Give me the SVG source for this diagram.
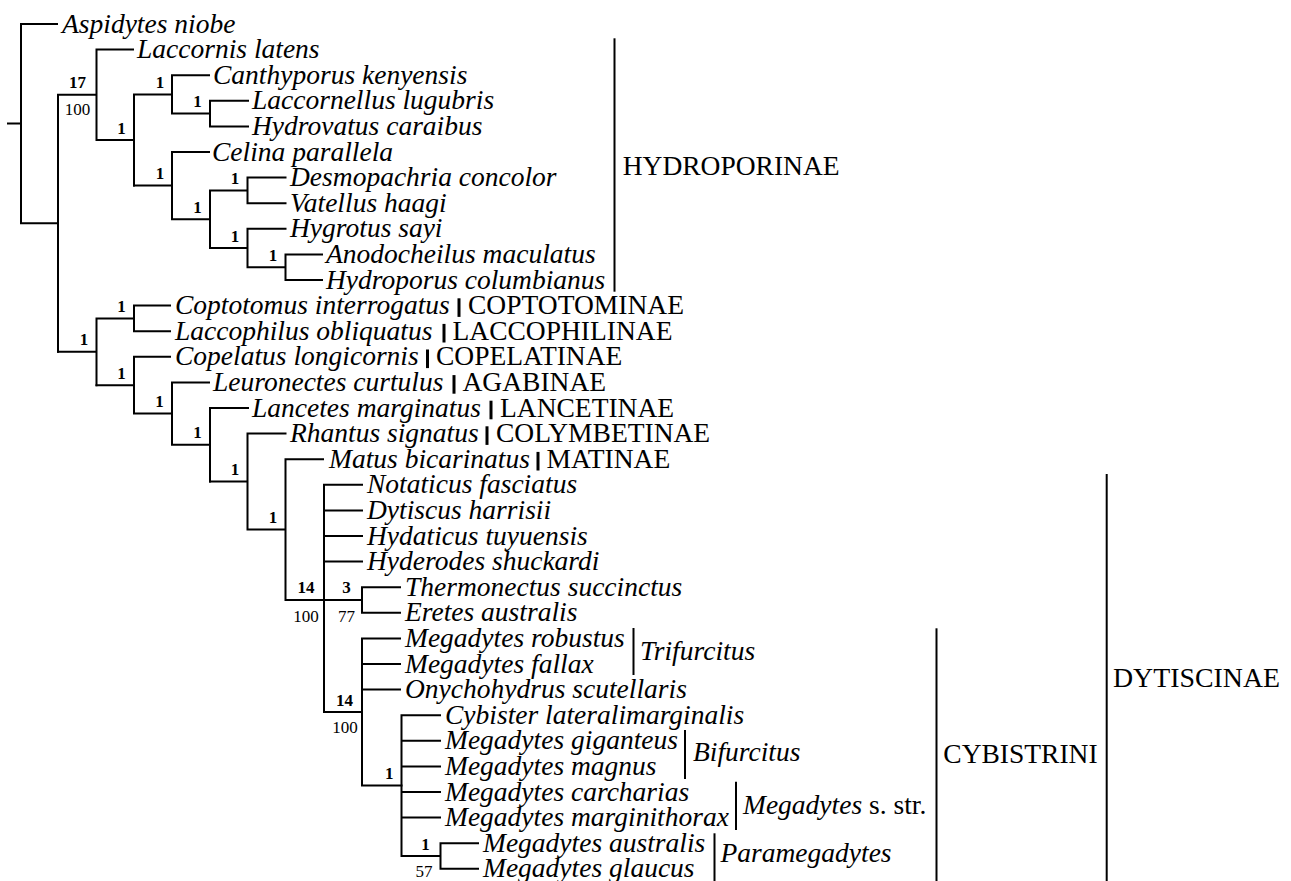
<svg xmlns="http://www.w3.org/2000/svg" width="1291" height="881" viewBox="0 0 1291 881">
<style>
.sp{font-family:"Liberation Serif","Times New Roman",serif;font-size:27.5px;font-style:italic;fill:#000}
.grp{font-family:"Liberation Serif","Times New Roman",serif;font-size:27.5px;fill:#000}
.it{font-style:italic}
.bs{font-family:"Liberation Serif","Times New Roman",serif;font-size:17px;font-weight:bold;text-anchor:middle;fill:#000}
.bt{font-family:"Liberation Serif","Times New Roman",serif;font-size:17px;text-anchor:middle;fill:#000}
.e{stroke:#000;stroke-width:2;fill:none;stroke-linecap:square}
.bar{stroke:#000;stroke-width:2;fill:none}
.tb{stroke:#000;stroke-width:3;fill:none}
</style>
<rect width="1291" height="881" fill="#fff"/>
<g id="connectors" class="e">
<path d="M8,123.6H21M21,24V223.3M21,24H57M21,223.3H58"/>
<path d="M58,94.8V351.8M58,94.8H96.5M96.5,49.6V140M96.5,49.6H133M96.5,140H134"/>
<path d="M134,94.4V185.6M134,94.4H172M172,75.2V113.6M172,75.2H209M172,113.6H210M210,100.8V126.4M210,100.8H248M210,126.4H248"/>
<path d="M134,185.6H172M172,152V219.2M172,152H209M172,219.2H210M210,190.4V248M210,190.4H247.5M247.5,177.6V203.2M247.5,177.6H285.5M247.5,203.2H285.5"/>
<path d="M210,248H247.5M247.5,228.8V267.2M247.5,228.8H285.5M247.5,267.2H285.5M285.5,254.4V280M285.5,254.4H322M285.5,280H322"/>
<path d="M58,351.8H96.5M96.5,318.4V385.2M96.5,318.4H134M134,305.6V331.2M134,305.6H170M134,331.2H170"/>
<path d="M96.5,385.2H134M134,356.8V413.6M134,356.8H170M134,413.6H172M172,382.4V444.8M172,382.4H209M172,444.8H210M210,408V481.6M210,408H248"/>
<path d="M210,481.6H247.5M247.5,433.6V529.6M247.5,433.6H285.5M247.5,529.6H285.5M285.5,459.2V600M285.5,459.2H323M285.5,600H324"/>
<path d="M324,484.8V712M324,484.8H362M324,510.4H362M324,536H362M324,561.6H362M324,600H362M362,587.2V612.8M362,587.2H400M362,612.8H400"/>
<path d="M324,712H362M362,638.4V785.6M362,638.4H400M362,664H400M362,689.6H400M362,785.6H401.5"/>
<path d="M401.5,715.2V856M401.5,715.2H440M401.5,740.8H440M401.5,766.4H440M401.5,792H440M401.5,817.6H440M401.5,856H440.5M440.5,843.2V868.8M440.5,843.2H478M440.5,868.8H478"/>
</g>
<g id="leaf-aspidytes"><text class="sp" x="62" y="32.5">Aspidytes niobe</text></g>
<g id="leaf-laccornis"><text class="sp" x="137" y="58.1">Laccornis latens</text></g>
<g id="leaf-canthyporus"><text class="sp" x="213" y="83.7">Canthyporus kenyensis</text></g>
<g id="leaf-laccornellus"><text class="sp" x="252" y="109.3">Laccornellus lugubris</text></g>
<g id="leaf-hydrovatus"><text class="sp" x="252" y="134.9">Hydrovatus caraibus</text></g>
<g id="leaf-celina"><text class="sp" x="212" y="160.5">Celina parallela</text></g>
<g id="leaf-desmopachria"><text class="sp" x="290" y="186.1">Desmopachria concolor</text></g>
<g id="leaf-vatellus"><text class="sp" x="290" y="211.7">Vatellus haagi</text></g>
<g id="leaf-hygrotus"><text class="sp" x="290" y="237.3">Hygrotus sayi</text></g>
<g id="leaf-anodocheilus"><text class="sp" x="326" y="262.9">Anodocheilus maculatus</text></g>
<g id="leaf-hydroporus"><text class="sp" x="326" y="288.5">Hydroporus columbianus</text></g>
<g id="leaf-coptotomus"><text class="sp" x="175" y="314.1">Coptotomus interrogatus</text><path class="tb" d="M459,298.3V316.9"/><text class="grp" x="468" y="314.1">COPTOTOMINAE</text></g>
<g id="leaf-laccophilus"><text class="sp" x="175" y="339.7">Laccophilus obliquatus</text><path class="tb" d="M444,323.9V342.5"/><text class="grp" x="452.5" y="339.7">LACCOPHILINAE</text></g>
<g id="leaf-copelatus"><text class="sp" x="175" y="365.3">Copelatus longicornis</text><path class="tb" d="M427.5,349.5V368.1"/><text class="grp" x="436" y="365.3">COPELATINAE</text></g>
<g id="leaf-leuronectes"><text class="sp" x="213" y="390.9">Leuronectes curtulus</text><path class="tb" d="M454,375.1V393.7"/><text class="grp" x="462.5" y="390.9">AGABINAE</text></g>
<g id="leaf-lancetes"><text class="sp" x="252" y="416.5">Lancetes marginatus</text><path class="tb" d="M491,400.7V419.3"/><text class="grp" x="500" y="416.5">LANCETINAE</text></g>
<g id="leaf-rhantus"><text class="sp" x="290" y="442.1">Rhantus signatus</text><path class="tb" d="M487,426.3V444.9"/><text class="grp" x="496" y="442.1">COLYMBETINAE</text></g>
<g id="leaf-matus"><text class="sp" x="329" y="467.7">Matus bicarinatus</text><path class="tb" d="M538,451.9V470.5"/><text class="grp" x="546.5" y="467.7">MATINAE</text></g>
<g id="leaf-notaticus"><text class="sp" x="367" y="493.3">Notaticus fasciatus</text></g>
<g id="leaf-dytiscus"><text class="sp" x="367" y="518.9">Dytiscus harrisii</text></g>
<g id="leaf-hydaticus"><text class="sp" x="367" y="544.5">Hydaticus tuyuensis</text></g>
<g id="leaf-hyderodes"><text class="sp" x="367" y="570.1">Hyderodes shuckardi</text></g>
<g id="leaf-thermonectus"><text class="sp" x="405" y="595.7">Thermonectus succinctus</text></g>
<g id="leaf-eretes"><text class="sp" x="405" y="621.3">Eretes australis</text></g>
<g id="leaf-robustus"><text class="sp" x="405" y="646.9">Megadytes robustus</text></g>
<g id="leaf-fallax"><text class="sp" x="405" y="672.5">Megadytes fallax</text></g>
<g id="leaf-onychohydrus"><text class="sp" x="405" y="698.1">Onychohydrus scutellaris</text></g>
<g id="leaf-cybister"><text class="sp" x="445" y="723.7">Cybister lateralimarginalis</text></g>
<g id="leaf-giganteus"><text class="sp" x="445" y="749.3">Megadytes giganteus</text></g>
<g id="leaf-magnus"><text class="sp" x="445" y="774.9">Megadytes magnus</text></g>
<g id="leaf-carcharias"><text class="sp" x="445" y="800.5">Megadytes carcharias</text></g>
<g id="leaf-marginithorax"><text class="sp" x="445" y="826.1">Megadytes marginithorax</text></g>
<g id="leaf-australis"><text class="sp" x="483" y="851.7">Megadytes australis</text></g>
<g id="leaf-glaucus"><text class="sp" x="483" y="877.3">Megadytes glaucus</text></g>
<g id="node-labels">
<text class="bs" x="77.5" y="87.5">17</text><text class="bt" x="77.5" y="114.5">100</text>
<text class="bs" x="160" y="87.9">1</text>
<text class="bs" x="197.5" y="107.1">1</text>
<text class="bs" x="121.5" y="133.5">1</text>
<text class="bs" x="160" y="179.1">1</text>
<text class="bs" x="197.5" y="212.7">1</text>
<text class="bs" x="235" y="183.9">1</text>
<text class="bs" x="235" y="241.5">1</text>
<text class="bs" x="273" y="260.7">1</text>
<text class="bs" x="84" y="345.3">1</text>
<text class="bs" x="121.5" y="311.9">1</text>
<text class="bs" x="121.5" y="378.7">1</text>
<text class="bs" x="159.5" y="407.1">1</text>
<text class="bs" x="197.5" y="438.3">1</text>
<text class="bs" x="235" y="475.1">1</text>
<text class="bs" x="273" y="523.1">1</text>
<text class="bs" x="306" y="593.3">14</text><text class="bt" x="306" y="621.7">100</text>
<text class="bs" x="346.5" y="593.3">3</text><text class="bt" x="346.5" y="621.7">77</text>
<text class="bs" x="344.5" y="706">14</text><text class="bt" x="345" y="733.3">100</text>
<text class="bs" x="389.3" y="779">1</text>
<text class="bs" x="425.5" y="849.5">1</text><text class="bt" x="424" y="876.5">57</text>
</g>
<g id="clade-hydroporinae"><path class="bar" d="M614.5,38.3V291.7"/><text class="grp" x="622.7" y="175">HYDROPORINAE</text></g>
<g id="clade-trifurcitus"><path class="bar" d="M633.5,628V675"/><text class="grp it" x="640" y="659.5">Trifurcitus</text></g>
<g id="clade-bifurcitus"><path class="bar" d="M685,730V779"/><text class="grp it" x="693" y="760.5">Bifurcitus</text></g>
<g id="clade-megadytes"><path class="bar" d="M736,781.7V830"/><text class="grp" x="743" y="814"><tspan class="it">Megadytes</tspan> s. str.</text></g>
<g id="clade-paramegadytes"><path class="bar" d="M714.5,833.3V881"/><text class="grp it" x="720.5" y="862">Paramegadytes</text></g>
<g id="clade-cybistrini"><path class="bar" d="M936.5,628.3V881"/><text class="grp" x="943.3" y="763.3">CYBISTRINI</text></g>
<g id="clade-dytiscinae"><path class="bar" d="M1106.7,474V881"/><text class="grp" x="1113" y="686.7" textLength="167" lengthAdjust="spacingAndGlyphs">DYTISCINAE</text></g>
</svg>
